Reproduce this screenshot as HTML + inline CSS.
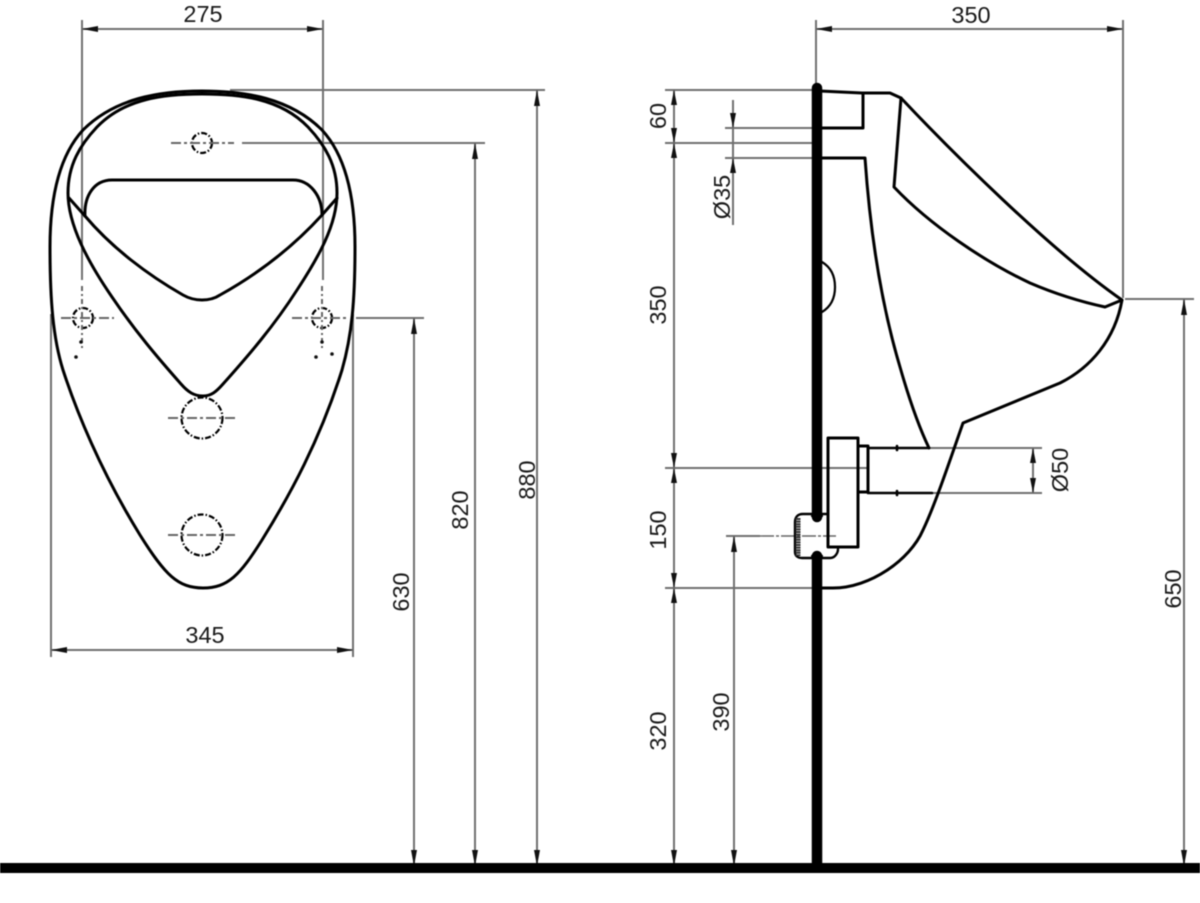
<!DOCTYPE html>
<html>
<head>
<meta charset="utf-8">
<style>
html,body{margin:0;padding:0;background:#fff;width:1200px;height:903px;overflow:hidden}
svg{display:block;filter:blur(.45px)}
text{font-family:"Liberation Sans",sans-serif;font-size:23.5px;fill:#1a1a1a;text-anchor:middle}
.d{stroke:#707070;stroke-width:2;fill:none}
.k{stroke:#000;stroke-width:3;fill:none;stroke-linejoin:round;stroke-linecap:round}
.c{stroke:#000;stroke-width:2.2;fill:none;stroke-dasharray:6 2 1.5 2}
.cl{stroke:#666;stroke-width:2;fill:none;stroke-dasharray:10 3 3 3}
.a{fill:#111;stroke:none}
</style>
</head>
<body>
<svg width="1200" height="903" viewBox="0 0 1200 903" xmlns="http://www.w3.org/2000/svg">
<rect width="1200" height="903" fill="#fff"/>

<!-- FRONT: dimension lines -->
<path class="d" d="M82 20V280M323 20V280M82 29H323M51 314V657M353 314V657M51 650H353"/>
<path class="d" d="M230 90H545M242 143H485M356 318H424M537 90V866M475 143V866M414 318V866"/>
<path class="a" d="M82 29l16-3v6zM323 29l-16-3v6zM51 650l16-3v6zM353 650l-16-3v6z"/>
<path class="a" d="M537 90l-3 16h6zM537 866l-3-16h6zM475 143l-3 16h6zM475 866l-3-16h6zM414 318l-3 16h6zM414 866l-3-16h6z"/>

<!-- FRONT: body -->
<path class="k" d="M202 91C160 91 115 98 83 130C60 155 50 195 50 247C50 300 53 338 63 370C76 410 100 470 140 535C165 575 178 588 203 588C228 588 240 575 262 540C290 495 320 440 342 370C352 335 355 300 355 247C355 195 345 155 322 130C290 98 245 91 202 91Z"/>
<path class="k" d="M202 94C165 94 125 98 97 127C80 145 68 165 68 193C68 225 88 262 112 297C135 331 158 358 181 384C188 392 194 396 203 396C211 396 216 392 223 384C248 356 274 326 297 290C318 258 337 225 337 193C337 165 325 145 308 127C280 98 240 94 202 94Z"/>
<path class="k" d="M69 198L85 216C112 248 148 275 183 295C190 299 196 300 202 300C208 300 214 299 220 295C256 275 292 248 322 215L337 198"/>
<path class="k" d="M85 216C84 196 94 180 112 180H293C310 180 322 196 322 215"/>

<!-- FRONT: holes and centre lines -->
<circle class="c" cx="202" cy="143" r="10"/>
<circle class="c" cx="83" cy="318" r="10"/>
<circle class="c" cx="322" cy="318" r="10"/>
<circle class="c" cx="202" cy="418" r="20.5"/>
<circle class="c" cx="202" cy="535" r="20.5"/>
<path class="cl" d="M171 143H234M61 318H114M292 318H346M168 418H236M168 535H236"/>
<path class="cl" style="stroke-dasharray:5 3 2 3" d="M82 286V350M322 286V350"/>
<circle class="a" cx="76" cy="357" r="1.8"/><circle class="a" cx="81" cy="342" r="1.8"/>
<circle class="a" cx="322" cy="342" r="1.8"/><circle class="a" cx="316" cy="357" r="1.8"/><circle class="a" cx="332" cy="354" r="1.8"/>

<text x="203" y="22">275</text>
<text x="205" y="643">345</text>
<text transform="translate(409 592) rotate(-90)">630</text>
<text transform="translate(468 510) rotate(-90)">820</text>
<text transform="translate(535 480) rotate(-90)">880</text>

<!-- SIDE: dimension lines -->
<path class="d" d="M816 20V90M1123 20V298M816 29H1123M1125 299H1194M1184 299V866"/>
<path class="d" d="M665 90H812M665 143H812M725 128H812M725 158H812M733 100V225M674 90V866"/>
<path class="d" d="M665 468H868M665 588H816M734 536V866M726 536H760"/>
<path class="d" d="M928 448H1042M932 493H1042M1033 448V493"/>
<path class="cl" style="stroke-width:1.4;stroke-dasharray:14 2 3 2" d="M760 536H836"/>
<path class="a" d="M816 29l16-3v6zM1123 29l-16-3v6zM1184 299l-3 16h6zM1184 866l-3-16h6z"/>
<path class="a" d="M674 90l-3 15h6zM674 143l-3-15h6zM674 143l-3 15h6zM733 128l-3-15h6zM733 158l-3 15h6zM734 536l-3 16h6zM734 866l-3-16h6zM1033 448l-3 15h6zM1033 493l-3-15h6z"/>
<path class="a" d="M674 468l-3-15h6zM674 468l-3 15h6zM674 588l-3-15h6zM674 588l-3 15h6zM674 866l-3-16h6z"/>

<!-- SIDE: wall and floor -->
<path d="M817 88V517M817 556V866" stroke="#000" stroke-width="10.5" stroke-linecap="round" fill="none"/>
<rect x="0" y="863" width="1200" height="10" fill="#000"/>

<!-- SIDE: body -->
<path class="k" d="M820 91L862 93H890L901 98C950 150 1050 250 1122 300C1115 340 1090 368 1060 383L963 423C950 460 935 505 923 530C910 560 870 588 833 588H820"/>
<path class="k" d="M901 98L894 187C930 225 985 262 1030 283C1058 295 1082 302 1105 307L1122 300"/>
<path class="k" d="M820 128H863V93"/>
<path class="k" d="M820 158H865C870 230 880 300 900 367C908 395 918 425 929 448"/>
<path class="k" style="stroke-width:2.2" d="M822 262C832 268 835 278 835 287C835 296 832 306 822 312"/>

<!-- SIDE: bracket / trap -->
<rect x="828" y="438" width="30" height="109" fill="#fff" class="k"/>
<path class="k" d="M858 446H868V492H858"/>
<path class="k" style="stroke-width:2.6" d="M868 448H928M868 493H932M897 446V450M897 491V495"/>
<path class="k" style="stroke-width:2.4" d="M828 514H803C797 514 795 518 795 522V552C795 556 798 558 802 558H830C835 558 838 553 838 549"/>
<path d="M798 518V556" stroke="#333" stroke-width="5" stroke-dasharray="2 .6" fill="none"/>
<path class="k" style="stroke-width:2.2" d="M812 516Q817 521 822 516M812 556Q817 551 822 556"/>

<text x="971" y="23">350</text>
<text transform="translate(666 116) rotate(-90)">60</text>
<text transform="translate(666 305) rotate(-90)">350</text>
<text transform="translate(666 530) rotate(-90)">150</text>
<text transform="translate(666 731) rotate(-90)">320</text>
<text transform="translate(730 197) rotate(-90)">Ø35</text>
<text transform="translate(729 712) rotate(-90)">390</text>
<text transform="translate(1068 470) rotate(-90)">Ø50</text>
<text transform="translate(1181 589) rotate(-90)">650</text>
</svg>
</body>
</html>
